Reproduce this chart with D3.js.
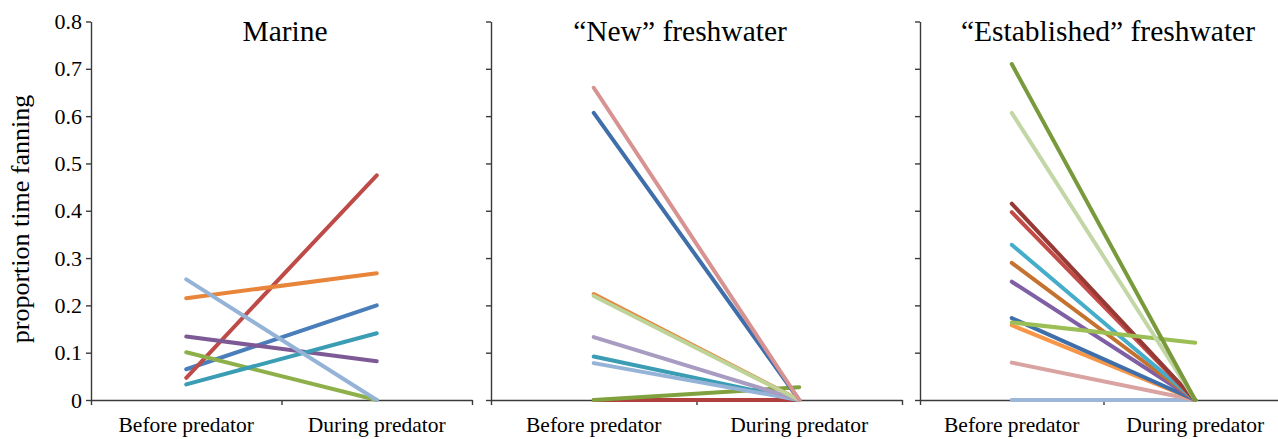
<!DOCTYPE html>
<html>
<head>
<meta charset="utf-8">
<script src="https://cdn.jsdelivr.net/npm/d3@7"></script>
<style>
  html, body { margin: 0; padding: 0; background: #fff; }
  svg { display: block; }
  svg text { font-family: "Liberation Serif", "Times New Roman", serif !important; fill: #000; }
</style>
</head>
<body>
<svg id="chart" width="1278" height="439" font-family="Liberation Serif"></svg>
<script>
// ---------------- data ----------------
const categories = ["Before predator", "During predator"];
const panelTitles = ["Marine", "\u201CNew\u201D freshwater", "\u201CEstablished\u201D freshwater"];
const yTicks = [0, 0.1, 0.2, 0.3, 0.4, 0.5, 0.6, 0.7, 0.8];
const yLabel = "proportion time fanning";

// Marine
const marineBefore = [0.065, 0.047, 0.101, 0.134, 0.033, 0.215, 0.255];
const marineDuring = [0.200, 0.475, 0.000, 0.082, 0.141, 0.268, 0.000];
const marineColors = ["#4A7EBB", "#BE4B48", "#8DB04A", "#7D5A96", "#3A9DB4", "#E8853A", "#95B3D7"];

// "New" freshwater
const newBefore = [0.000, 0.000, 0.607, 0.224, 0.092, 0.078, 0.133, 0.220, 0.660];
const newDuring = [0.000, 0.027, 0.000, 0.000, 0.000, 0.000, 0.000, 0.000, 0.000];
const newColors = ["#B0403D", "#7FA23E", "#3F6FAA", "#E8853A", "#3A9DB4", "#95B3D7", "#A89CC2", "#BDD397", "#D69391"];

// "Established" freshwater
const estBefore = [0.000, 0.079, 0.158, 0.173, 0.250, 0.290, 0.328, 0.397, 0.415, 0.164, 0.607, 0.710];
const estDuring = [0.000, 0.000, 0.000, 0.000, 0.000, 0.000, 0.000, 0.000, 0.000, 0.121, 0.000, 0.000];
const estColors = ["#9DB5D9", "#D9A3A1", "#F79646", "#3F6FAA", "#7F60A5", "#C57130", "#45ADCA", "#C24B48", "#973A36", "#9BBF55", "#C3D6A6", "#789A3C"];

// ---------------- layout ----------------
const svg = d3.select("#chart");
const FONT = "Liberation Serif";
const yTop = 21.5, yBottom = 400;
const panels = [
  { x0: 91,  x1: 472,  titleX: 285,  before: marineBefore, during: marineDuring, colors: marineColors, labels: true },
  { x0: 491, x1: 902,  titleX: 680,  before: newBefore,    during: newDuring,    colors: newColors,    labels: false },
  { x0: 920, x1: 1287, titleX: 1108, before: estBefore,    during: estDuring,    colors: estColors,    labels: false }
];

const y = d3.scaleLinear().domain([0, 0.8]).range([yBottom, yTop]);
const axisColor = "#3a3a3a";

panels.forEach((p, i) => {
  const g = svg.append("g");
  const xBand = d3.scaleBand().domain(categories).range([p.x0, p.x1]).padding(0);
  const xEdge = d3.scaleLinear().domain([0, 2]).range([p.x0, p.x1]);

  // y axis
  const yAxis = d3.axisLeft(y).tickValues(yTicks).tickSize(5).tickSizeOuter(0)
    .tickFormat(p.labels ? (d => d === 0 ? "0" : d3.format(".1f")(d)) : () => "");
  const ya = g.append("g").attr("transform", `translate(${p.x0},0)`).call(yAxis)
    .attr("font-family", FONT).attr("font-size", 22);
  ya.select(".domain").attr("stroke", axisColor).attr("stroke-width", 1.4);
  ya.selectAll(".tick line").attr("stroke", axisColor).attr("stroke-width", 1.4);
  ya.selectAll(".tick text").attr("x", -9).attr("fill", "#000");

  // x axis line with edge ticks
  const xAxis = d3.axisBottom(xEdge).tickValues([0, 1, 2]).tickSize(5).tickSizeOuter(0).tickFormat(() => "");
  const xa = g.append("g").attr("transform", `translate(0,${yBottom})`).call(xAxis);
  xa.select(".domain").attr("stroke", axisColor).attr("stroke-width", 1.4);
  xa.selectAll(".tick line").attr("stroke", axisColor).attr("stroke-width", 1.4);

  // category labels
  const xl = g.append("g").attr("transform", `translate(0,${yBottom})`)
    .call(d3.axisBottom(xBand).tickSize(0).tickPadding(17))
    .attr("font-family", FONT).attr("font-size", 21.5);
  xl.select(".domain").remove();
  xl.selectAll(".tick text").attr("fill", "#000");

  // lines
  const cx = c => xBand(c) + xBand.bandwidth() / 2;
  const line = d3.line().x(d => cx(d.c)).y(d => y(d.v));
  p.before.forEach((b, k) => {
    const pts = [{ c: categories[0], v: b }, { c: categories[1], v: p.during[k] }];
    g.append("path").datum(pts).attr("d", line)
      .attr("fill", "none").attr("stroke", p.colors[k])
      .attr("stroke-width", 4).attr("stroke-linecap", "round");
  });

  // title
  svg.append("text").attr("x", p.titleX).attr("y", 41).attr("text-anchor", "middle")
    .attr("font-family", FONT).attr("font-size", 29.5).text(panelTitles[i]);
});

// y label
svg.append("text")
  .attr("transform", "translate(29,219) rotate(-90)")
  .attr("text-anchor", "middle").attr("font-family", FONT).attr("font-size", 26)
  .text(yLabel);
</script>
</body>
</html>
